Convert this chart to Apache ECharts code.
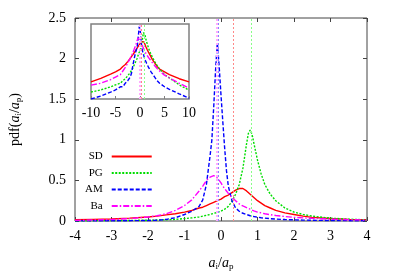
<!DOCTYPE html>
<html><head><meta charset="utf-8">
<script src="https://cdn.jsdelivr.net/npm/echarts@6/dist/echarts.min.js"></script>
<style>html,body{margin:0;padding:0;background:#fff}#c{width:395px;height:276px}</style>
</head><body><div id="c"></div>
<script>
// ---- data ----
const xs = [-4,-3.5,-3,-2.5,-2,-1.75,-1.5,-1.25,-1,-0.8,-0.6,-0.5,-0.4,-0.3,-0.25,-0.2,-0.15,-0.1,-0.05,0,0.05,0.1,0.15,0.2,0.3,0.4,0.5,0.6,0.7,0.75,0.8,0.85,0.9,1,1.1,1.2,1.35,1.5,1.75,2,2.25,2.5,3,3.5,4];
const sdVals = [0.015,0.02,0.025,0.035,0.05,0.06,0.075,0.09,0.11,0.13,0.16,0.17,0.19,0.21,0.22,0.23,0.24,0.25,0.26,0.27,0.285,0.30,0.31,0.32,0.35,0.38,0.40,0.40,0.37,0.35,0.33,0.31,0.29,0.25,0.22,0.19,0.16,0.13,0.10,0.08,0.06,0.045,0.03,0.02,0.015];
const pgVals = [0.003,0.004,0.005,0.007,0.01,0.012,0.016,0.02,0.03,0.038,0.05,0.06,0.07,0.08,0.09,0.095,0.10,0.105,0.11,0.12,0.13,0.145,0.16,0.18,0.24,0.33,0.45,0.65,0.95,1.08,1.12,1.07,0.96,0.75,0.58,0.45,0.33,0.25,0.16,0.11,0.08,0.06,0.035,0.022,0.015];
const amVals = [0.002,0.002,0.003,0.004,0.006,0.009,0.02,0.04,0.08,0.12,0.18,0.26,0.45,0.8,1.0,1.4,1.85,2.2,1.9,1.55,1.22,0.9,0.62,0.43,0.25,0.16,0.12,0.095,0.08,0.072,0.065,0.06,0.055,0.047,0.04,0.035,0.029,0.024,0.018,0.014,0.011,0.009,0.006,0.004,0.003];
const baVals = [0.008,0.012,0.018,0.03,0.05,0.065,0.09,0.13,0.19,0.26,0.37,0.43,0.5,0.54,0.555,0.56,0.55,0.53,0.5,0.47,0.43,0.4,0.37,0.34,0.29,0.25,0.21,0.185,0.165,0.155,0.145,0.135,0.125,0.11,0.1,0.09,0.078,0.068,0.055,0.045,0.038,0.032,0.022,0.016,0.012];
// dotted reference lines (x positions)
const markX = {SD: 0.34, PG: 0.84, AM: -0.07, Ba: -0.12};
// inset tails (log-scale inset, x from -10 to 10)
const tailLeftX = [-10,-8,-6,-5];
const tailRightX = [5,6,8,10];
const sdTailL = [0.0035,0.0052,0.0085,0.011], sdTailR = [0.011,0.008,0.005,0.0035];
const pgTailL = [0.0011,0.0014,0.002,0.0025], pgTailR = [0.008,0.0055,0.0025,0.00135];
const amTailL = [0.0005,0.0007,0.0011,0.0014], amTailR = [0.002,0.0015,0.0009,0.00055];
const baTailL = [0.0024,0.003,0.0045,0.006], baTailR = [0.0075,0.0055,0.003,0.0017];
const seriesNames = ['SD','PG','AM','Ba'];

const serif = 'Liberation Serif';
const colors = {SD:'#ff0000', PG:'#00dd00', AM:'#0000ff', Ba:'#ff00ff'};
const markColors = {SD:'#ff8888', PG:'#88ff88', AM:'#8888ff', Ba:'#ffaaff'};
const dashes = {SD:'solid', PG:[2,1.5], AM:[4,2], Ba:[6,2,1.5,2]};
const vals = {SD:sdVals, PG:pgVals, AM:amVals, Ba:baVals};
const tails = {SD:[sdTailL,sdTailR], PG:[pgTailL,pgTailR], AM:[amTailL,amTailR], Ba:[baTailL,baTailR]};
const zip = (a,b)=>a.map((v,i)=>[v,b[i]]);

const series = [];
seriesNames.forEach(n=>{
  series.push({
    name:n, type:'line', xAxisIndex:0, yAxisIndex:0, data: zip(xs, vals[n]),
    symbol:'none', lineStyle:{color:colors[n], width:1.4, type:dashes[n]}, itemStyle:{color:colors[n]},
    markLine:{silent:true, symbol:['none','none'], label:{show:false},
      lineStyle:{color:markColors[n], type:[2,2], width: n==='Ba'?2:1}, data:[{xAxis:markX[n]}]},
    z:3
  });
});
seriesNames.forEach(n=>{
  const d = zip(tailLeftX, tails[n][0]).concat(zip(xs, vals[n])).concat(zip(tailRightX, tails[n][1]));
  series.push({
    name:n+' inset', type:'line', xAxisIndex:2, yAxisIndex:2, data:d,
    symbol:'none', lineStyle:{color:colors[n], width:1.4, type:dashes[n]},
    markLine:{silent:true, symbol:['none','none'], label:{show:false},
      lineStyle:{color:markColors[n], type:[2,2], width: n==='Ba'?2:1}, data:[{xAxis:markX[n]}]},
    z:3
  });
});

const lblStyle = {fontFamily:serif, fontSize:14, color:'#000'};
const rich = {
  r:{fontFamily:serif, fontSize:14, color:'#000', lineHeight:14, verticalAlign:'top'},
  it:{fontFamily:serif, fontSize:14, fontStyle:'italic', color:'#000', lineHeight:14, verticalAlign:'top'},
  s:{fontFamily:serif, fontSize:9, color:'#000', lineHeight:10, padding:[6,0,0,0], verticalAlign:'top'}
};
const noLine = {show:false, onZero:false};

const option = {
  animation:false,
  backgroundColor:'#fff',
  legend:{
    data:seriesNames, orient:'vertical', align:'right', left:85, top:151, padding:0,
    itemWidth:40, itemHeight:10, itemGap:5.5, selectedMode:false,
    itemStyle:{opacity:0, color:'rgba(0,0,0,0)', borderWidth:0},
    textStyle:{fontFamily:serif, fontSize:11, color:'#000', padding:[0,4,0,0]}
  },
  grid:[
    {left:75, top:18, width:292, height:208, show:true, borderColor:'#444', borderWidth:1, backgroundColor:'transparent'},
    {left:91, top:24, width:98, height:75, show:true, borderColor:'#808080', borderWidth:1.5, backgroundColor:'#fff'}
  ],
  xAxis:[
    {gridIndex:0, type:'value', min:-4, max:4, interval:1, position:'bottom',
     axisLine:noLine, splitLine:{show:false},
     axisTick:{inside:true, length:4, lineStyle:{color:'#444'}},
     axisLabel:{...lblStyle, margin:8},
     name:'{it|a}{s|i}{r|/}{it|a}{s|p}', nameLocation:'middle', nameGap:35,
     nameTextStyle:{rich}},
    {gridIndex:0, type:'value', min:-4, max:4, interval:1, position:'top',
     axisLine:noLine, splitLine:{show:false},
     axisTick:{inside:true, length:4, lineStyle:{color:'#444'}}, axisLabel:{show:false}},
    {gridIndex:1, type:'value', min:-10, max:10, interval:5, position:'bottom',
     axisLine:noLine, splitLine:{show:false},
     axisTick:{inside:true, length:3, lineStyle:{color:'#808080'}},
     axisLabel:{...lblStyle, margin:7}}
  ],
  yAxis:[
    {gridIndex:0, type:'value', min:0, max:2.5, interval:0.5, position:'left',
     axisLine:noLine, splitLine:{show:false},
     axisTick:{inside:true, length:4, lineStyle:{color:'#444'}},
     axisLabel:{...lblStyle, margin:9},
     name:'{r|pdf(}{it|a}{s|i}{r|/}{it|a}{s|p}{r|)}', nameLocation:'middle', nameGap:53, nameRotate:90,
     nameTextStyle:{rich}},
    {gridIndex:0, type:'value', min:0, max:2.5, interval:0.5, position:'right',
     axisLine:noLine, splitLine:{show:false},
     axisTick:{inside:true, length:4, lineStyle:{color:'#444'}}, axisLabel:{show:false}},
    {gridIndex:1, type:'log', logBase:10, min:0.0005, max:2.5,
     axisLine:noLine, splitLine:{show:false}, axisTick:{show:false}, axisLabel:{show:false}}
  ],
  series
};
const chart = echarts.init(document.getElementById('c'), null, {renderer:'canvas'});
chart.setOption(option);
</script>
</body></html>
